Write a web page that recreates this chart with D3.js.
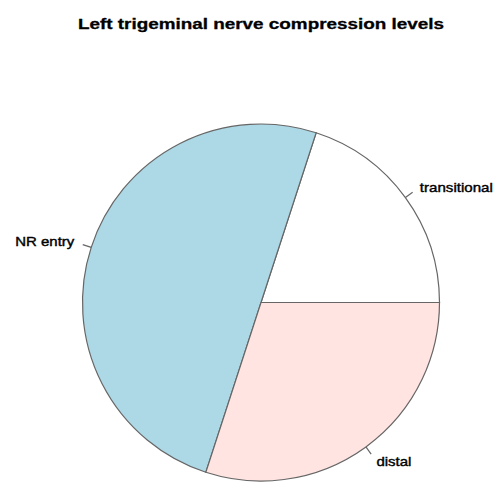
<!DOCTYPE html>
<html>
<head>
<meta charset="utf-8">
<script src="https://cdn.jsdelivr.net/npm/d3@7"></script>
<style>
  body { margin: 0; background: #fff; }
  svg { display: block; font-family: "Liberation Sans", Arial, sans-serif; }
</style>
</head>
<body>
<svg width="493" height="483"></svg>
<script>
// pie data (R base pie, counterclockwise from 3 o'clock)
const labels = ['transitional', 'NR entry', 'distal']
const values = [2, 5, 3]
const colors = ['#ffffff', '#add8e6', '#ffe4e1']
const title = 'Left trigeminal nerve compression levels'

const svg = d3.select('svg'),
  width = +svg.attr('width'),
  height = +svg.attr('height')

const cx = 261, cy = 302.5, r = 178.5

// title
svg.append('text')
  .attr('x', 261)
  .attr('y', 29)
  .attr('text-anchor', 'middle')
  .attr('font-weight', 'bold')
  .attr('font-size', 15)
  .attr('stroke', '#000')
  .attr('stroke-width', 0.3)
  .attr('textLength', 366)
  .attr('lengthAdjust', 'spacingAndGlyphs')
  .text(title)

const pie = d3.pie()
  .sort(null)
  .startAngle(Math.PI / 2)
  .endAngle(Math.PI / 2 - 2 * Math.PI)

const arcs = pie(values)
const arc = d3.arc().innerRadius(0).outerRadius(r)

const g = svg.append('g').attr('transform', `translate(${cx},${cy})`)

g.selectAll('path')
  .data(arcs)
  .join('path')
  .attr('d', arc)
  .attr('fill', (d, i) => colors[i])
  .attr('stroke', '#666')
  .attr('stroke-width', 1.2)

// tick marks + labels
const labelWidths = [73, 59, 35]
arcs.forEach((d, i) => {
  const a = (d.startAngle + d.endAngle) / 2
  const sx = Math.sin(a), sy = -Math.cos(a)
  g.append('line')
    .attr('x1', sx * r).attr('y1', sy * r)
    .attr('x2', sx * r * 1.05).attr('y2', sy * r * 1.05)
    .attr('stroke', '#666')
    .attr('stroke-width', 1.2)
  g.append('text')
    .attr('x', sx * r * 1.1)
    .attr('y', sy * r * 1.1)
    .attr('dy', '0.35em')
    .attr('text-anchor', sx < 0 ? 'end' : 'start')
    .attr('font-size', 13)
    .attr('stroke', '#000')
    .attr('stroke-width', 0.4)
    .attr('textLength', labelWidths[i])
    .attr('lengthAdjust', 'spacingAndGlyphs')
    .text(labels[i])
})
</script>
</body>
</html>
